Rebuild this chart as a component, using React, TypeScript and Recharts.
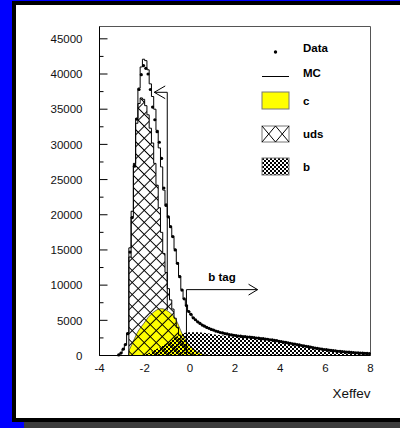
import React from 'react';
import {
  ComposedChart,
  Area,
  Line,
  XAxis,
  YAxis,
  ReferenceLine,
  ReferenceArea,
  Legend,
} from 'recharts';

const FONT = "'Liberation Sans', Arial, Helvetica, sans-serif";

// histogram bin centres (bin width 0.1)
const binCenters = [
  -3.35, -3.25, -3.15, -3.05, -2.95, -2.85, -2.75, -2.65, -2.55, -2.45,
  -2.35, -2.25, -2.15, -2.05, -1.95, -1.85, -1.75, -1.65, -1.55, -1.45,
  -1.35, -1.25, -1.15, -1.05, -0.95, -0.85, -0.75, -0.65, -0.55, -0.45,
  -0.35, -0.25, -0.15, -0.05, 0.05, 0.15, 0.25, 0.35, 0.45, 0.55,
  0.65, 0.75, 0.85, 0.95, 1.05, 1.15, 1.25, 1.35, 1.45, 1.55,
  1.65, 1.75, 1.85, 1.95, 2.05, 2.15, 2.25, 2.35, 2.45, 2.55,
  2.65, 2.75, 2.85, 2.95, 3.05, 3.15, 3.25, 3.35, 3.45, 3.55,
  3.65, 3.75, 3.85, 3.95, 4.05, 4.15, 4.25, 4.35, 4.45, 4.55,
  4.65, 4.75, 4.85, 4.95, 5.05, 5.15, 5.25, 5.35, 5.45, 5.55,
  5.65, 5.75, 5.85, 5.95, 6.05, 6.15, 6.25, 6.35, 6.45, 6.55,
  6.65, 6.75, 6.85, 6.95, 7.05, 7.15, 7.25, 7.35, 7.45, 7.55,
  7.65, 7.75, 7.85, 7.95,
];

const mcCounts = [
  0, 0, 60, 300, 850, 1600, 3200, 15300, 19700, 27000,
  33700, 38000, 41000, 42100, 41900, 40600, 38600, 36800, 35000, 32000,
  29500, 26800, 23500, 21200, 19600, 18200, 16800, 15100, 13200, 11300,
  9400, 8000, 7100, 6300, 5800, 5400, 5050, 4800, 4550, 4350,
  4150, 4000, 3850, 3720, 3600, 3480, 3380, 3280, 3200, 3120,
  3050, 2980, 2920, 2870, 2820, 2780, 2740, 2700, 2670, 2640,
  2610, 2580, 2540, 2500, 2460, 2420, 2380, 2340, 2300, 2250,
  2200, 2150, 2090, 2030, 1970, 1910, 1850, 1790, 1730, 1670,
  1610, 1550, 1490, 1430, 1370, 1310, 1250, 1190, 1130, 1070,
  1010, 960, 910, 860, 815, 770, 730, 690, 650, 615,
  580, 550, 520, 490, 465, 440, 415, 390, 370, 350,
  330, 310, 295, 280,
];

const dataCounts = [
  null, null, 80, 350, 900, 1550, 3100, 14700, 19600, 26900,
  33600, 37800, 39900, 41200, 40800, 40000, 37800, 35300, 33500, 31800,
  30300, 28000, 23800, 21400, 19700, 18300, 16900, 15000, 13100, 11200,
  9300, 8050, 7100, 6250, 5850, 5350, 5080, 4780, 4560, 4330,
  4160, 3990, 3860, 3710, 3610, 3470, 3390, 3270, 3210, 3110,
  3060, 2970, 2930, 2860, 2830, 2770, 2750, 2690, 2680, 2630,
  2620, 2570, 2550, 2490, 2470, 2410, 2390, 2330, 2310, 2240,
  2210, 2140, 2100, 2020, 1980, 1900, 1860, 1780, 1740, 1660,
  1620, 1540, 1500, 1420, 1380, 1300, 1260, 1180, 1140, 1060,
  1020, 950, 920, 850, 825, 760, 740, 680, 660, 605,
  590, 540, 530, 480, 475, 430, 425, 380, 378, 342,
  338, 302, 300, 272,
];

const udsCounts = [
  0, 0, 0, 0, 0, 0, 0, 14000, 20500, 27300,
  33000, 35800, 36600, 36400, 35500, 34200, 32300, 30200, 27300, 24200,
  21000, 17500, 14500, 11800, 9500, 7900, 6600, 5300, 4000, 2900,
  2000, 1300, 800, 450, 200, 80, 0, 0, 0, 0,
  0, 0, 0, 0, 0, 0, 0, 0, 0, 0,
  0, 0, 0, 0, 0, 0, 0, 0, 0, 0,
  0, 0, 0, 0, 0, 0, 0, 0, 0, 0,
  0, 0, 0, 0, 0, 0, 0, 0, 0, 0,
  0, 0, 0, 0, 0, 0, 0, 0, 0, 0,
  0, 0, 0, 0, 0, 0, 0, 0, 0, 0,
  0, 0, 0, 0, 0, 0, 0, 0, 0, 0,
  0, 0, 0, 0,
];

// c component (smooth)
const cX = [
  -2.72, -2.69, -2.65, -2.55, -2.45, -2.35, -2.25, -2.15, -2.05, -1.95,
  -1.85, -1.75, -1.65, -1.55, -1.45, -1.35, -1.25, -1.15, -1.05, -0.95,
  -0.85, -0.75, -0.65, -0.55, -0.45, -0.35, -0.25, -0.15, -0.05, 0.05,
  0.15, 0.25, 0.35, 0.45, 0.55, 0.65, 0.75, 0.85,
];
const cCounts = [
  0, 700, 1000, 1700, 2400, 3100, 3650, 4100, 4500, 4950,
  5400, 5750, 6050, 6300, 6500, 6620, 6650, 6600, 6450, 6250,
  6000, 5700, 5250, 4650, 3900, 3150, 2550, 2050, 1600, 1250,
  950, 700, 500, 330, 200, 100, 30, 0,
];

// b component (smooth)
const bX = [
  -2.3, -2.1, -1.9, -1.7, -1.5, -1.3, -1.1, -0.9, -0.7, -0.5,
  -0.3, -0.1, 0.1, 0.3, 0.5, 0.7, 0.9, 1.1, 1.3, 1.5,
  1.7, 1.9, 2.1, 2.4, 2.8, 3.2, 3.6, 4.0, 4.4, 4.8,
  5.2, 5.6, 6.0, 6.4, 6.8, 7.2, 7.6, 7.95,
];
const bCounts = [
  0, 100, 250, 550, 880, 1200, 1550, 2050, 2450, 2850,
  3150, 3260, 3300, 3310, 3280, 3200, 3100, 3000, 2900, 2830,
  2770, 2710, 2660, 2590, 2480, 2360, 2180, 1950, 1680, 1420,
  1150, 920, 720, 560, 430, 330, 250, 190,
];

const xTicks = [-4, -2, 0, 2, 4, 6, 8];
const yTicks = [
  0, 2500, 5000, 7500, 10000, 12500, 15000, 17500, 20000, 22500,
  25000, 27500, 30000, 32500, 35000, 37500, 40000, 42500, 45000,
];
const xDomain = [-4, 8];
const yDomain = [0, 46750];

// cut annotations (data coordinates)
const cutLow = { x: -1, top: 37400, base: 6450, tip: -1.575, armX: -1.09, armDy: 900 };
const cutB = { x: -0.15, top: 9360, base: 0, tip: 3.0, armX: 2.6, armDy: 770 };

const histRows = binCenters.map((x, i) => ({
  x,
  mc: mcCounts[i],
  data: dataCounts[i],
  uds: udsCounts[i],
}));
const cRows = cX.map((x, i) => ({ x, c: cCounts[i] }));
const bRows = bX.map((x, i) => ({ x, b: bCounts[i] }));

const YTick = (props: any) => {
  const { x, y, payload } = props;
  const v = payload.value as number;
  const major = v % 5000 === 0;
  const ax = x + 17;
  return (
    <g>
      <line x1={ax} x2={ax + (major ? 8 : 4)} y1={y} y2={y} stroke="#000" strokeWidth={1} />
      {major && (
        <text x={x} y={y} dy={4.2} textAnchor="end" fontSize={11.5} fill="#111" fontFamily={FONT}>
          {v}
        </text>
      )}
    </g>
  );
};

const LegendGraphic = () => (
  <svg width={400} height={200} style={{ display: 'block' }}>
    <defs>
      <pattern id="legCheck" width="4" height="4" patternUnits="userSpaceOnUse">
        <rect x="0" y="0" width="2" height="2" fill="#000" />
        <rect x="2" y="2" width="2" height="2" fill="#000" />
      </pattern>
    </defs>
    <g fontFamily={FONT} fontWeight="bold" fontSize={11.5} fill="#000">
      <circle cx={275.5} cy={52} r={1.7} fill="#000" />
      <text x={303} y={52.3}>Data</text>
      <line x1={262} x2={289} y1={76.5} y2={76.5} stroke="#000" strokeWidth={1} />
      <text x={303} y={76.5}>MC</text>
      <rect x={262} y={92} width={27} height={17} fill="#ffff00" stroke="#777" strokeWidth={1} />
      <text x={303} y={105}>c</text>
      <rect x={262} y={126} width={27} height={16} fill="#fff" stroke="#777" strokeWidth={1} />
      <path d="M262,126 L275.5,142 M275.5,126 L262,142 M275.5,126 L289,142 M289,126 L275.5,142" stroke="#000" strokeWidth={1} fill="none" />
      <text x={303} y={138}>uds</text>
      <rect x={262} y={158} width={27} height={17} fill="url(#legCheck)" stroke="#777" strokeWidth={1} />
      <text x={303} y={170.5}>b</text>
    </g>
  </svg>
);

export default function App() {
  return (
    <div
      style={{
        position: 'absolute',
        left: 0,
        top: 0,
        width: 400,
        height: 428,
        background: '#0000ff',
        overflow: 'hidden',
        fontFamily: FONT,
      }}
    >
      <div style={{ position: 'absolute', left: 12, top: 1, width: 400, height: 421, background: '#000' }} />
      <div style={{ position: 'absolute', left: 16, top: 5, width: 400, height: 413, background: '#fff' }} />
      <div style={{ position: 'absolute', left: 24, top: 422, width: 380, height: 6, background: '#3c3c3c' }} />
      <div style={{ position: 'absolute', left: 0, top: 0 }}>
        <ComposedChart
          width={400}
          height={428}
          data={histRows}
          margin={{ top: 26.5, right: 29.5, bottom: 0, left: 0 }}
          style={{ fontFamily: FONT }}
        >
          <defs>
            <pattern
              id="udsHatch"
              width="8.5"
              height="8.5"
              patternUnits="userSpaceOnUse"
              patternTransform="rotate(45)"
            >
              <path d="M0,4.25 H8.5 M4.25,0 V8.5" stroke="#000" strokeWidth="1" fill="none" />
            </pattern>
            <pattern id="bCheck" width="4" height="4" patternUnits="userSpaceOnUse">
              <rect x="0" y="0" width="2" height="2" fill="#000" />
              <rect x="2" y="2" width="2" height="2" fill="#000" />
            </pattern>
          </defs>
          <XAxis
            dataKey="x"
            type="number"
            domain={xDomain}
            ticks={xTicks}
            interval={0}
            height={72.5}
            tickLine={false}
            tickSize={0}
            tickMargin={8}
            axisLine={{ stroke: '#000' }}
            tick={{ fontSize: 11.5, fill: '#111', fontFamily: FONT }}
            label={{
              value: 'Xeffev',
              position: 'insideBottomRight',
              offset: 0,
              dy: -30,
              fontSize: 13.5,
              fill: '#111',
              fontFamily: FONT,
            }}
          />
          <YAxis
            type="number"
            domain={yDomain}
            ticks={yTicks}
            interval={0}
            width={99.5}
            tickLine={false}
            tickSize={0}
            tickMargin={17}
            axisLine={{ stroke: '#000' }}
            tick={<YTick />}
          />
          <ReferenceArea
            x1={xDomain[0]}
            x2={xDomain[1]}
            y1={yDomain[0]}
            y2={yDomain[1]}
            fill="none"
            fillOpacity={0}
            stroke="#555"
            strokeWidth={1}
          />
          <Area
            data={cRows}
            dataKey="c"
            type="monotone"
            fill="#ffff00"
            fillOpacity={1}
            stroke="#333"
            strokeWidth={0.7}
            dot={false}
            activeDot={false}
            isAnimationActive={false}
          />
          <Area
            dataKey="uds"
            type="step"
            fill="url(#udsHatch)"
            fillOpacity={1}
            stroke="#000"
            strokeWidth={1}
            dot={false}
            activeDot={false}
            isAnimationActive={false}
          />
          <Area
            data={bRows}
            dataKey="b"
            type="monotone"
            fill="url(#bCheck)"
            fillOpacity={1}
            stroke="none"
            dot={false}
            activeDot={false}
            isAnimationActive={false}
          />
          <Line
            dataKey="mc"
            type="step"
            stroke="#000"
            strokeWidth={1}
            dot={false}
            activeDot={false}
            isAnimationActive={false}
          />
          <Line
            dataKey="data"
            stroke="none"
            dot={{ r: 1.6, fill: '#000', stroke: 'none' }}
            activeDot={false}
            isAnimationActive={false}
          />
          {/* cut at -1 (arrow to the left) */}
          <ReferenceLine
            segment={[{ x: cutLow.x, y: cutLow.base }, { x: cutLow.x, y: cutLow.top }]}
            stroke="#000"
            strokeWidth={1}
          />
          <ReferenceLine
            segment={[{ x: cutLow.x, y: cutLow.top }, { x: cutLow.tip, y: cutLow.top }]}
            stroke="#000"
            strokeWidth={1}
          />
          <ReferenceLine
            segment={[{ x: cutLow.tip, y: cutLow.top }, { x: cutLow.armX, y: cutLow.top + cutLow.armDy }]}
            stroke="#000"
            strokeWidth={1}
          />
          <ReferenceLine
            segment={[{ x: cutLow.tip, y: cutLow.top }, { x: cutLow.armX, y: cutLow.top - cutLow.armDy }]}
            stroke="#000"
            strokeWidth={1}
          />
          {/* b tag cut (arrow to the right) */}
          <ReferenceLine
            segment={[{ x: cutB.x, y: cutB.base }, { x: cutB.x, y: cutB.top }]}
            stroke="#000"
            strokeWidth={1}
          />
          <ReferenceLine
            segment={[{ x: cutB.x, y: cutB.top }, { x: cutB.tip, y: cutB.top }]}
            stroke="#000"
            strokeWidth={1}
            label={{
              value: 'b tag',
              position: 'top',
              offset: 9,
              fontSize: 11.5,
              fontWeight: 'bold',
              fill: '#000',
              fontFamily: FONT,
            }}
          />
          <ReferenceLine
            segment={[{ x: cutB.tip, y: cutB.top }, { x: cutB.armX, y: cutB.top + cutB.armDy }]}
            stroke="#000"
            strokeWidth={1}
          />
          <ReferenceLine
            segment={[{ x: cutB.tip, y: cutB.top }, { x: cutB.armX, y: cutB.top - cutB.armDy }]}
            stroke="#000"
            strokeWidth={1}
          />
          <Legend
            layout="horizontal"
            verticalAlign="middle"
            align="center"
            content={() => <LegendGraphic />}
            wrapperStyle={{ left: 0, top: 0, width: 400, height: 200 }}
          />
        </ComposedChart>
      </div>
    </div>
  );
}
